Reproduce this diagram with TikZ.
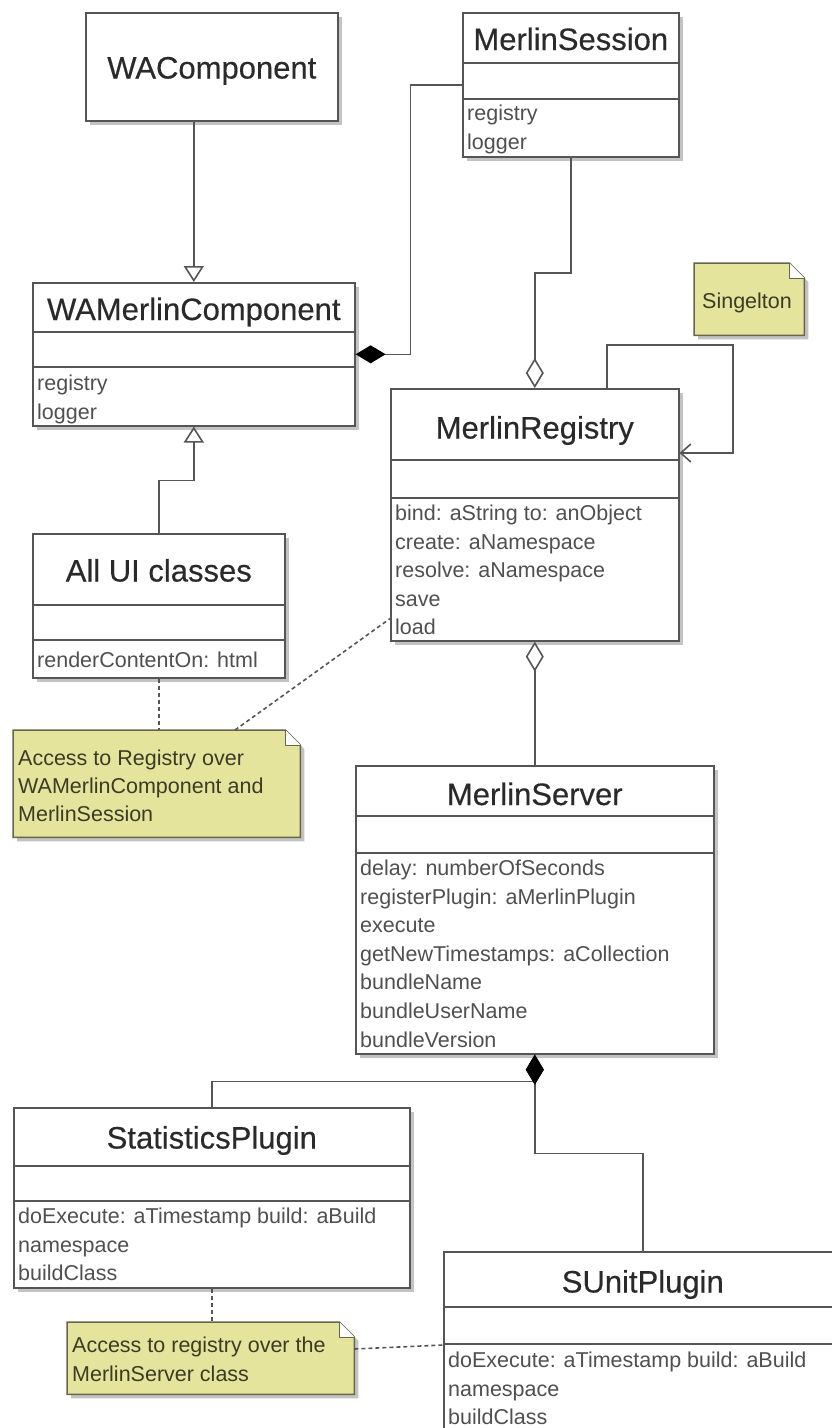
\documentclass[tikz,border=0pt]{standalone}
\usepackage{fontspec}
\setmainfont{Liberation Sans}
\newfontfamily\titlefam[FakeBold=0.35]{Liberation Sans}
\usetikzlibrary{arrows.meta,calc,shadows}
\definecolor{linec}{HTML}{555555}
\definecolor{titlec}{HTML}{2A2A2A}
\definecolor{attrc}{HTML}{505050}
\definecolor{notefill}{HTML}{E4E49C}
\definecolor{notedraw}{HTML}{66664C}
\definecolor{notetext}{HTML}{3C3C26}
\definecolor{shadowc}{HTML}{B4B4B4}
\newcommand{\titlefont}{\titlefam\fontsize{31}{36}\selectfont}
\newcommand{\attrfont}{\fontsize{21.5}{28.6}\selectfont}
\newcommand{\umlclass}[9]{%
  \node[classbox, minimum width=#4pt, minimum height=#5pt] (#1) at (#2,#3) {};
  \draw[divider] ($(#1.north west)+(0,#6)$) -- ($(#1.north east)+(0,#6)$);
  \draw[divider] ($(#1.north west)+(0,#7)$) -- ($(#1.north east)+(0,#7)$);
  \node[titletext] (#1-t) at ($(#1.north)+(0,#8)$) {#9};
}
\newcommand{\umlops}[3]{%
  \foreach \txt [count=\i] in {#3} {
    \node[attrtext] (#1-o\i) at ($(#1.north west)+(5,#2+28.6*\i-28.6)$) {\txt};
  }
}
\newcommand{\umlnote}[5]{%
  \node[inner sep=0pt, minimum width=#4pt, minimum height=#5pt, anchor=north west] (#1) at (#2,#3) {};
  \fill[shadowc, opacity=0.8] ($(#1.north west)+(4,4)$) -- ($(#1.north east)+(-11,4)$) -- ($(#1.north east)+(4,19)$) -- ($(#1.south east)+(4,4)$) -- ($(#1.south west)+(4,4)$) -- cycle;
  \draw[notedraw, fill=notefill, line width=1.5pt] (#1.north west) -- ($(#1.north east)+(-15,0)$) -- ($(#1.north east)+(0,15)$) -- (#1.south east) -- (#1.south west) -- cycle;
  \draw[notedraw, fill=white, line width=1pt, line join=round] ($(#1.north east)+(-15,0)$) -- ($(#1.north east)+(-15,15)$) -- ($(#1.north east)+(0,15)$);
}
\begin{document}
\begin{tikzpicture}[x=1pt,y=-1pt,
  classbox/.style={draw=linec, fill=white, line width=1.6pt, rectangle, inner sep=0pt, anchor=north west,
    drop shadow={shadow xshift=4pt, shadow yshift=-4pt, fill=shadowc, opacity=0.8}},
  divider/.style={draw=linec, line width=1.6pt},
  titletext/.style={font=\titlefont, text=titlec, anchor=base, inner sep=0pt},
  attrtext/.style={font=\attrfont, text=attrc, anchor=base west, inner sep=0pt},
  notetxt/.style={font=\attrfont, text=notetext, anchor=base west, inner sep=0pt},
  conn/.style={draw=linec, line width=1.6pt},
  gen/.style={conn, -{Triangle[width=20pt, length=16pt, fill=white]}},
  comp/.style={conn, {Diamond[width=18pt, length=30pt, fill=black, color=black]}-},
  aggr/.style={conn, {Diamond[width=18pt, length=30pt, fill=white]}-},
  nav/.style={conn, -{Straight Barb[length=10pt, width=18pt]}},
  notelink/.style={draw=linec, line width=1.6pt, dash pattern=on 4pt off 3pt}
]
\useasboundingbox (0,0) rectangle (832,1428);
\clip (0,0) rectangle (832,1428);
\fill[white] (0,0) rectangle (832,1428);

% WAComponent
\node[classbox, minimum width=252pt, minimum height=108pt] (wac) at (85,12) {};
\node[titletext] (wac-t) at ($(wac.north)+(0,66.5)$) {WAComponent};

% MerlinSession
\umlclass{ms}{462}{12}{216}{144}{51}{87}{38}{MerlinSession}
\umlops{ms}{108.5}{registry,logger}

% WAMerlinComponent
\umlclass{wamc}{32}{282}{322}{143}{50}{85}{38}{WAMerlinComponent}
\umlops{wamc}{108.5}{registry,logger}

% MerlinRegistry
\umlclass{reg}{390}{388}{288}{252}{72}{110}{50.5}{MerlinRegistry}
\umlops{reg}{132.5}{bind: aString to: anObject,create: aNamespace,resolve: aNamespace,save,load}

% All UI classes
\umlclass{allui}{32}{533}{252}{144}{72}{107}{48.5}{All UI classes}
\umlops{allui}{134.5}{renderContentOn: html}

% MerlinServer
\umlclass{srv}{355}{765}{358}{288}{51}{88}{40}{MerlinServer}
\umlops{srv}{110.5}{delay: numberOfSeconds,registerPlugin: aMerlinPlugin,execute,getNewTimestamps: aCollection,bundleName,bundleUserName,bundleVersion}

% StatisticsPlugin
\umlclass{stat}{13}{1107}{396}{180}{59}{94}{41.5}{StatisticsPlugin}
\umlops{stat}{116.5}{doExecute: aTimestamp build: aBuild,namespace,buildClass}

% SUnitPlugin
\umlclass{sunit}{443}{1251}{398}{200}{56}{93}{41.5}{SUnitPlugin}
\umlops{sunit}{116.5}{doExecute: aTimestamp build: aBuild,namespace,buildClass}

% Notes
\umlnote{single}{694}{263}{110}{72}
\node[notetxt] (single-t) at ($(single.north west)+(8,45.5)$) {Singelton};
\umlnote{n1}{13}{730}{287}{107}
\node[notetxt] (n1-t1) at ($(n1.north west)+(5,35.5)$) {Access to Registry over};
\node[notetxt] (n1-t2) at ($(n1.north west)+(5,63.5)$) {WAMerlinComponent and};
\node[notetxt] (n1-t3) at ($(n1.north west)+(5,91.5)$) {MerlinSession};
\umlnote{n2}{67}{1322}{287}{72}
\node[notetxt] (n2-t1) at ($(n2.north west)+(5,30.5)$) {Access to registry over the};
\node[notetxt] (n2-t2) at ($(n2.north west)+(5,59.5)$) {MerlinServer class};

% Connectors
\draw[gen] (wac.south -| wamc.north) -- (wamc.north);
\draw[gen] (allui.north) |- ($(wamc.south)+(0,54)$) -- (wamc.south);
\draw[comp] (wamc.east) -- ++(55,0) |- (ms.west);
\draw[aggr] (reg.north) -- ++(0,-115) -| (ms.south);
\draw[nav] ($(reg.north)+(72,0)$) -- ++(0,-43) -- ++(126,0) -- ++(0,108) -- ($(reg.north east)+(0,65)$);
\draw[aggr] (reg.south) -- (srv.north);
\draw[comp] (srv.south) -- ++(0,99) -| (sunit.north);
\draw[comp] (srv.south) -- ++(0,27) -| (stat.north);
\draw[notelink] (allui.south) -- (allui.south |- n1.north);
\draw[notelink] ($(n1.north west)+(222,0)$) -- ($(reg.south west)+(0,-23)$);
\draw[notelink] (stat.south) -- (stat.south |- n2.north);
\draw[notelink] ($(n2.north east)+(0,27)$) -- ($(sunit.north west)+(0,94)$);
\end{tikzpicture}
\end{document}
